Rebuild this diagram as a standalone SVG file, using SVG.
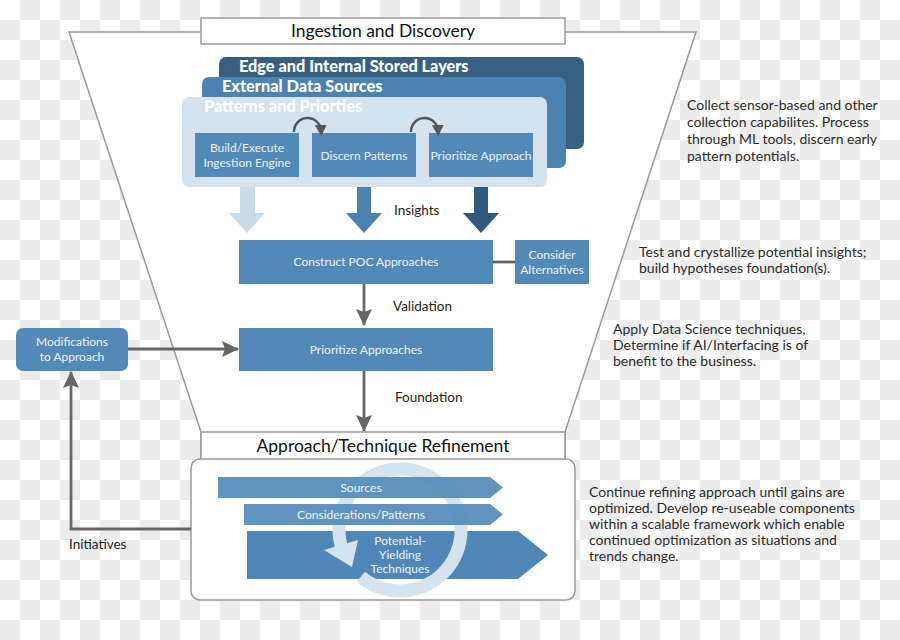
<svg xmlns="http://www.w3.org/2000/svg" width="900" height="640" viewBox="0 0 900 640">
<defs>
<pattern id="chk" x="0" y="0" width="40" height="40" patternUnits="userSpaceOnUse">
<rect width="40" height="40" fill="#ffffff"/>
<rect x="20" y="0" width="20" height="20" fill="#ececec"/>
<rect x="0" y="20" width="20" height="20" fill="#ececec"/>
</pattern>
<marker id="ah" markerUnits="userSpaceOnUse" markerWidth="18" markerHeight="18" refX="16" refY="9" orient="auto">
<path d="M0,1 L17,9 L0,17 L3,9 z" fill="#666"/>
</marker>
<marker id="ahs" markerUnits="userSpaceOnUse" markerWidth="12" markerHeight="12" refX="6" refY="6" orient="auto">
<path d="M0,0 L11,6 L0,12 z" fill="#555"/>
</marker>
<clipPath id="lowclip"><path d="M247,531 H518 L548,555 L518,579 H247 z"/></clipPath>
</defs>
<style>
.frame{fill:#fff;stroke:#9a9a9a;stroke-width:1.5}
.box{fill:#5189b9}
.wt{font-family:Lato,"Open Sans",sans-serif;fill:#eef4fa;font-size:12px;text-anchor:middle}
.hd{font-family:Lato,"Open Sans",sans-serif;fill:#111;font-size:17.5px;text-anchor:middle}
.lbl{font-family:Lato,"Open Sans",sans-serif;fill:#222;font-size:13.5px}
.desc{font-family:Lato,"Open Sans",sans-serif;fill:#2a2a2a;font-size:14px}
.bold{font-family:Lato,"Open Sans",sans-serif;font-weight:900;font-size:16.3px;fill:#fff}
.con{fill:none;stroke:#666;stroke-width:2.8}
.curl{fill:none;stroke:#555;stroke-width:2.5}
.ring{fill:none;stroke:#d5e3ee;stroke-width:13}
</style>
<rect width="900" height="640" fill="url(#chk)"/>

<g id="funnel">
<path class="frame" d="M69,32 H696 L565,432 V460 H201 V432 Z"/>
</g>

<g id="header-top">
<rect class="frame" x="201" y="18" width="364" height="26"/>
<text class="hd" x="383" y="37">Ingestion and Discovery</text>
</g>

<g id="layer-edge">
<rect x="219" y="57" width="365" height="92" rx="7" fill="#365f81"/>
<text class="bold" x="239" y="72">Edge and Internal Stored Layers</text>
</g>
<g id="layer-external">
<rect x="202" y="77" width="364" height="91" rx="7" fill="#4b82b0"/>
<text class="bold" x="222" y="92">External Data Sources</text>
</g>
<g id="layer-patterns">
<rect x="182" y="97" width="365" height="90" rx="7" fill="#d5e3ee"/>
<text class="bold" x="204" y="112">Patterns and Priorties</text>
</g>

<g id="node-build">
<rect class="box" x="195" y="133" width="104" height="44"/>
<text class="wt" x="247" y="152">Build/Execute</text>
<text class="wt" x="247" y="167">Ingestion Engine</text>
</g>
<g id="node-discern">
<rect class="box" x="312" y="133" width="104" height="44"/>
<text class="wt" x="364" y="160">Discern Patterns</text>
</g>
<g id="node-prioritize-approach">
<rect class="box" x="429" y="133" width="104" height="44"/>
<text class="wt" x="481" y="160">Prioritize Approach</text>
</g>

<g id="node-construct">
<rect class="box" x="239" y="240" width="254" height="44"/>
<text class="wt" x="366" y="266">Construct POC Approaches</text>
</g>
<g id="node-consider">
<rect class="box" x="515" y="240" width="74" height="44"/>
<text class="wt" x="552" y="259">Consider</text>
<text class="wt" x="552" y="274">Alternatives</text>
</g>
<g id="node-prioritize-approaches">
<rect class="box" x="239" y="328" width="254" height="43"/>
<text class="wt" x="366" y="354">Prioritize Approaches</text>
</g>
<g id="node-modifications">
<rect class="box" x="16" y="328" width="112" height="43" rx="7"/>
<text class="wt" x="72" y="346">Modifications</text>
<text class="wt" x="72" y="361">to Approach</text>
</g>

<g id="header-bottom">
<rect class="frame" x="201" y="432" width="364" height="28"/>
<text class="hd" x="383" y="452">Approach/Technique Refinement</text>
</g>

<g id="refinement">
<rect class="frame" x="191" y="459" width="384" height="141" rx="9"/>
<path class="ring" d="M360.8,576.7 A61,61 0 1 0 341.1,545.8"/>
<path d="M218,477 H490 L503,487.5 L490,498 H218 z" fill="#4f88b8" fill-opacity="0.9"/>
<text class="wt" x="361" y="491.5">Sources</text>
<path d="M244,504 H490 L503,514.5 L490,525 H244 z" fill="#4f88b8" fill-opacity="0.9"/>
<text class="wt" x="361" y="518.5">Considerations/Patterns</text>
<path d="M247,531 H518 L548,555 L518,579 H247 z" fill="#4f88b8"/>
<g clip-path="url(#lowclip)">
<path class="ring" d="M360.8,576.7 A61,61 0 1 0 341.1,545.8"/>
</g>
<path d="M358,540 L324,550 L352,567 z" fill="#d5e3ee"/>
<text class="wt" x="400" y="545">Potential-</text>
<text class="wt" x="400" y="559">Yielding</text>
<text class="wt" x="400" y="573">Techniques</text>
</g>

<g id="connectors">
<path class="curl" d="M294,132 A13.5,13.5 0 0 1 321,131" marker-end="url(#ahs)"/>
<path class="curl" d="M411,132 A13.5,13.5 0 0 1 438,131" marker-end="url(#ahs)"/>
<path d="M240,187 H255 V213 H265 L247,233 L229,213 H240 z" fill="#c9dbe9"/>
<path d="M357,187 H371 V213 H382 L364,233 L346,213 H357 z" fill="#4b82b0"/>
<path d="M474,187 H488 V213 H499 L481,233 L463,213 H474 z" fill="#30597b"/>
<line class="con" x1="493" y1="262" x2="515" y2="262"/>
<line class="con" x1="364" y1="284" x2="364" y2="325" marker-end="url(#ah)"/>
<line class="con" x1="364" y1="371" x2="364" y2="431" marker-end="url(#ah)"/>
<line class="con" x1="128" y1="349" x2="238" y2="349" marker-end="url(#ah)"/>
<path class="con" d="M191,529 H71 V372" marker-end="url(#ah)"/>
</g>

<g id="labels">
<text class="lbl" x="394" y="215">Insights</text>
<text class="lbl" x="393" y="311">Validation</text>
<text class="lbl" x="395" y="402">Foundation</text>
<text class="lbl" x="69" y="549">Initiatives</text>
</g>

<g id="descriptions">
<text class="desc"><tspan x="687" y="110">Collect sensor-based and other</tspan><tspan x="687" y="127">collection capabilites. Process</tspan><tspan x="687" y="144">through ML tools, discern early</tspan><tspan x="687" y="161">pattern potentials.</tspan></text>
<text class="desc"><tspan x="639" y="257">Test and crystallize potential insights;</tspan><tspan x="639" y="273">build hypotheses foundation(s).</tspan></text>
<text class="desc"><tspan x="613" y="334">Apply Data Science techniques,</tspan><tspan x="613" y="350">Determine if AI/Interfacing is of</tspan><tspan x="613" y="366">benefit to the business.</tspan></text>
<text class="desc"><tspan x="589" y="497">Continue refining approach until gains are</tspan><tspan x="589" y="513">optimized. Develop re-useable components</tspan><tspan x="589" y="529">within a scalable framework which enable</tspan><tspan x="589" y="545">continued optimization as situations and</tspan><tspan x="589" y="561">trends change.</tspan></text>
</g>
</svg>
